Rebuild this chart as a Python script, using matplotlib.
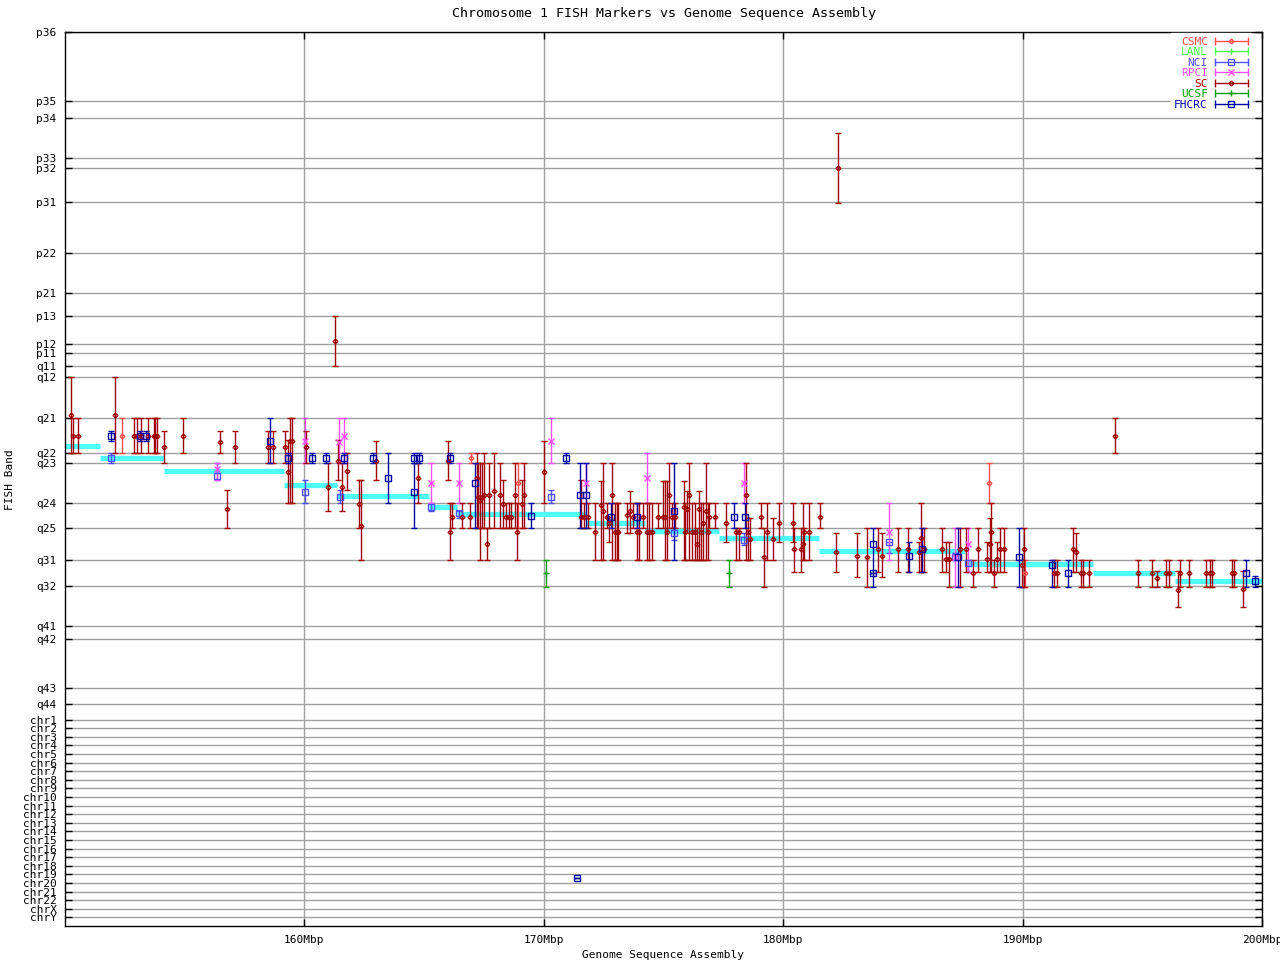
import matplotlib
matplotlib.use('Agg')
import numpy as np
import matplotlib.pyplot as plt
from matplotlib.lines import Line2D
from matplotlib.legend_handler import HandlerBase

plt.rcParams['font.family'] = 'DejaVu Sans Mono'
plt.rcParams['font.size'] = 8

# band coordinate scale (top of p arm = smallest value)
band_names = ['p36', 'p35', 'p34', 'p33', 'p32', 'p31', 'p22', 'p21', 'p13', 'p12', 'p11',
              'q11', 'q12', 'q21', 'q22', 'q23', 'q24', 'q25', 'q31', 'q32', 'q41', 'q42',
              'q43', 'q44'] + ['chr%d' % i for i in range(1, 23)] + ['chrX', 'chrY']
band_pos = [32.3, 101.3, 118.3, 158.3, 168.3, 202.3, 253.3, 293.3, 316, 344, 353.3,
            366.3, 377.3, 418.3, 453.3, 463.3, 503.3, 528.3, 560.3, 586.3, 626.3, 639,
            688.3, 704, 720.3, 728.3, 737.3, 745.3, 754.3, 763.3, 771.3, 780.3, 788.3,
            797.3, 806.3, 814.3, 823.3, 831.3, 840.3, 849.3, 857.3, 866.3, 874.3, 883.3,
            892.3, 900.3, 909.3, 917.3]
band_bottom = 926.3

# sequence assembly band segments (Mbp start, Mbp end, band coord)
seg_start = [150.0, 151.45, 154.13, 159.16, 161.38, 165.2, 166.37, 171.78, 174.21, 177.32,
             181.51, 187.59, 192.96, 196.35]
seg_end = [151.45, 154.13, 159.16, 161.38, 165.2, 166.37, 171.78, 174.21, 177.32, 181.51,
           187.59, 192.96, 196.35, 200.0]
seg_band = [446, 458, 471, 485, 496, 507, 514, 523, 531, 538, 551, 564, 573, 581]

# FISH markers: (Mbp, band, band low, band high)
sc = [
    (150.26, 415, 377, 453), (150.33, 436, 418, 453), (150.54, 436, 418, 453),
    (152.08, 415, 377, 453), (152.87, 436, 418, 453), (153.01, 436, 418, 453),
    (153.19, 436, 418, 453), (153.47, 436, 418, 453), (153.72, 436, 418, 453),
    (153.78, 436, 418, 453), (153.85, 436, 418, 453), (154.14, 447, 431, 463),
    (154.94, 436, 418, 453), (156.49, 442, 431, 453), (156.76, 509, 490, 528),
    (157.12, 447, 431, 463), (158.46, 447, 431, 463), (158.67, 447, 431, 463),
    (159.17, 447, 431, 463), (159.30, 472, 440, 503), (159.41, 441, 418, 503),
    (159.50, 441, 418, 503), (160.07, 447, 431, 463), (160.99, 487, 463, 511),
    (161.26, 341, 316, 366), (161.40, 461, 440, 480), (161.57, 487, 463, 511),
    (161.77, 471, 453, 490), (162.29, 504, 480, 528), (162.35, 526, 480, 560),
    (162.99, 461, 441, 480), (164.75, 478, 463, 503), (166.01, 461, 441, 480),
    (166.07, 532, 503, 560), (166.15, 517, 503, 528), (166.57, 517, 503, 528),
    (166.90, 517, 503, 528), (167.20, 478, 453, 528), (167.27, 497, 463, 528),
    (167.34, 500, 463, 560), (167.42, 497, 463, 528), (167.49, 495, 453, 528),
    (167.62, 544, 528, 560), (167.73, 495, 463, 528), (167.94, 491, 453, 528),
    (168.15, 495, 463, 528), (168.31, 504, 480, 528), (168.43, 517, 503, 528),
    (168.55, 517, 503, 528), (168.65, 517, 503, 528), (168.78, 495, 463, 528),
    (168.86, 532, 503, 560), (169.09, 504, 480, 528), (169.19, 495, 463, 528),
    (169.99, 472, 441, 503), (171.57, 517, 480, 528), (171.70, 517, 503, 528),
    (171.85, 517, 503, 528), (172.13, 532, 503, 560), (172.38, 505, 481, 560),
    (172.48, 511, 463, 560), (172.62, 517, 503, 528), (172.73, 523, 517, 542),
    (172.86, 495, 463, 560), (172.97, 532, 503, 560), (173.04, 532, 503, 560),
    (173.11, 532, 503, 560), (173.49, 515, 503, 533), (173.60, 511, 491, 533),
    (173.74, 517, 503, 528), (173.88, 532, 503, 560), (173.97, 532, 503, 560),
    (174.16, 517, 503, 528), (174.31, 532, 503, 560), (174.41, 532, 503, 560),
    (174.54, 532, 503, 560), (174.76, 517, 503, 528), (174.97, 517, 481, 528),
    (175.05, 517, 481, 560), (175.14, 532, 481, 560), (175.23, 495, 463, 528),
    (175.35, 517, 503, 528), (175.50, 517, 503, 528), (175.84, 507, 481, 560),
    (175.90, 532, 503, 560), (175.97, 509, 491, 533), (176.07, 495, 463, 560),
    (176.18, 532, 503, 560), (176.30, 532, 503, 560), (176.39, 544, 528, 560),
    (176.49, 509, 491, 560), (176.58, 532, 503, 560), (176.67, 523, 503, 560),
    (176.77, 511, 463, 560), (176.86, 532, 503, 560), (176.91, 517, 503, 528),
    (177.16, 517, 503, 528), (177.62, 523, 503, 542), (178.03, 532, 528, 560),
    (178.14, 532, 528, 560), (178.46, 495, 463, 560), (178.52, 532, 518, 560),
    (178.63, 539, 518, 560), (179.09, 517, 503, 528), (179.19, 557, 528, 587),
    (179.34, 532, 503, 560), (179.58, 539, 518, 560), (179.82, 523, 503, 542),
    (180.41, 523, 503, 542), (180.47, 549, 528, 572), (180.73, 549, 528, 572),
    (180.83, 544, 503, 560), (180.87, 532, 528, 560), (181.08, 532, 503, 560),
    (181.52, 517, 503, 528), (182.19, 552, 533, 572), (182.28, 168, 133, 203),
    (183.10, 556, 533, 577), (183.52, 557, 528, 587), (183.98, 549, 528, 572),
    (184.12, 556, 533, 577), (184.81, 549, 528, 572), (185.23, 549, 528, 572),
    (185.66, 552, 542, 572), (185.76, 538, 503, 572), (185.87, 549, 528, 572),
    (186.62, 549, 528, 572), (186.80, 559, 542, 572), (186.92, 559, 542, 587),
    (187.37, 549, 528, 587), (187.64, 549, 528, 572), (187.94, 573, 560, 587),
    (188.15, 549, 528, 572), (188.52, 559, 542, 572), (188.62, 544, 518, 572),
    (188.69, 532, 503, 572), (188.79, 573, 560, 587), (188.94, 559, 542, 572),
    (189.04, 549, 528, 572), (189.21, 549, 528, 572), (189.98, 565, 560, 587),
    (190.06, 549, 528, 587), (191.31, 573, 560, 587), (191.42, 573, 560, 587),
    (192.09, 549, 528, 572), (192.21, 552, 533, 572), (192.44, 573, 560, 587),
    (192.54, 573, 560, 587), (192.79, 573, 560, 587), (193.84, 436, 418, 453),
    (194.81, 573, 560, 587), (195.40, 573, 560, 587), (195.61, 578, 571, 587),
    (196.00, 573, 560, 587), (196.10, 573, 560, 587), (196.49, 590, 571, 607),
    (196.57, 573, 560, 587), (196.97, 573, 560, 587), (197.64, 573, 560, 587),
    (197.81, 573, 560, 587), (197.92, 573, 560, 587), (198.73, 573, 560, 587),
    (198.83, 573, 560, 587), (199.22, 589, 571, 607),
]
fhcrc = [
    (151.94, 436, 431, 441), (153.12, 436, 431, 441), (153.38, 436, 431, 441),
    (158.55, 441, 418, 463), (159.32, 458, 453, 463), (160.31, 458, 453, 463),
    (160.91, 458, 453, 463), (161.65, 458, 453, 463), (162.88, 458, 453, 463),
    (163.49, 478, 453, 503), (164.56, 492, 463, 528), (164.56, 458, 453, 463),
    (164.79, 458, 453, 463), (166.07, 458, 453, 463), (167.13, 483, 463, 528),
    (169.48, 516, 503, 528), (170.91, 458, 453, 463), (171.50, 495, 463, 528),
    (171.78, 495, 463, 528), (172.80, 517, 503, 528), (173.91, 517, 503, 528),
    (175.42, 511, 463, 560), (177.93, 517, 503, 528), (178.42, 517, 503, 528),
    (183.77, 544, 528, 587), (183.77, 573, 573, 573), (185.25, 556, 542, 572),
    (185.80, 549, 528, 572), (187.30, 557, 528, 587), (189.87, 557, 528, 587),
    (191.21, 565, 560, 587), (191.90, 573, 560, 587), (199.34, 573, 560, 587),
    (199.69, 581, 576, 587), (171.40, 878, 878, 878),
]
nci = [
    (151.94, 458, 453, 463), (156.34, 476, 463, 480), (160.01, 492, 480, 503),
    (161.48, 497, 490, 503), (165.28, 507, 503, 511), (166.47, 513, 511, 518),
    (170.31, 497, 490, 503), (175.42, 533, 528, 540), (178.38, 540, 533, 545),
    (184.43, 542, 542, 553), (187.16, 557, 553, 560), (187.74, 563, 560, 572),
]
rpci = [
    (156.34, 469, 463, 480), (160.01, 441, 418, 463), (161.45, 442, 418, 463),
    (161.65, 436, 418, 463), (165.28, 483, 463, 503), (166.47, 483, 463, 503),
    (170.31, 441, 418, 463), (171.78, 483, 463, 503), (174.31, 478, 453, 503),
    (178.38, 483, 463, 503), (184.43, 532, 503, 560), (187.16, 557, 528, 587),
    (187.74, 544, 528, 572),
]
csmc = [
    (152.38, 436, 418, 453), (166.97, 458, 453, 463), (168.92, 483, 463, 528),
    (188.60, 483, 463, 503), (190.09, 573, 560, 587),
]
ucsf = [(170.08, 573, 560, 587), (177.75, 573, 560, 587)]
lanl = []

labs = ['CSMC', 'LANL', 'NCI', 'RPCI', 'SC', 'UCSF', 'FHCRC']
lab_data = [csmc, lanl, nci, rpci, sc, ucsf, fhcrc]
lab_colors = ['#ff5050', '#50ff50', '#5050ff', '#ff50ff', '#a00000', '#00a000', '#0000a0']
lab_markers = ['D', '+', 's', 'x', 'D', '+', 's']
lab_ms = [2.4, 4, 4.2, 3.8, 2.4, 4, 4.2]


class KeyHandler(HandlerBase):
    def create_artists(self, legend, orig, xdescent, ydescent, width, height, fontsize, trans):
        c = orig.get_color()
        y = (height - ydescent) / 2
        x0, x1 = -xdescent, width - xdescent
        line = Line2D([x0, x1], [y, y], color=c, lw=1, transform=trans)
        caps = Line2D([x0, x1], [y, y], ls='none', marker='|', ms=6, mew=1, mec=c, transform=trans)
        mk = Line2D([(x0 + x1) / 2], [y], ls='none', marker=orig.get_marker(),
                    ms=orig.get_markersize(), mew=1, mec=c, mfc='none', transform=trans)
        return [line, caps, mk]


fig = plt.figure(figsize=(12.8, 9.6), dpi=100)
ax = fig.add_axes([65 / 1280, 1 - 926.3 / 960, 1197 / 1280, (926.3 - 32.3) / 960])

ax.hlines(seg_band, seg_start, seg_end, color='#50ffff', lw=3.8, zorder=2)

handles = []
for name, data, c, m, ms in zip(labs, lab_data, lab_colors, lab_markers, lab_ms):
    if data:
        d = np.array(data, dtype=float)
        x, y, lo, hi = d[:, 0], d[:, 1], d[:, 2], d[:, 3]
        ax.errorbar(x, y, yerr=[y - lo, hi - y], fmt='none', ecolor=c, elinewidth=1,
                    capsize=2.5, capthick=1, zorder=3)
        ax.plot(x, y, ls='none', marker=m, ms=ms, mew=1, mec=c, mfc='none', zorder=4)
    handles.append(Line2D([], [], color=c, marker=m, ms=ms, label=name))

ax.set_xlim(150, 200)
ax.set_ylim(band_bottom, band_pos[0])
ax.set_xticks([160, 170, 180, 190, 200])
ax.set_xticklabels(['160Mbp', '170Mbp', '180Mbp', '190Mbp', '200Mbp'])
ax.set_yticks(band_pos)
ax.set_yticklabels(band_names)
ax.tick_params(direction='in', length=5, width=1, top=True, right=True, pad=6)
ax.grid(True, color='#a0a0a0', lw=1, zorder=0)
ax.set_axisbelow(True)
for s in ax.spines.values():
    s.set_linewidth(1)

ax.set_title('Chromosome 1 FISH Markers vs Genome Sequence Assembly', pad=11)
ax.set_xlabel('Genome Sequence Assembly', labelpad=4)
ax.set_ylabel('FISH Band', labelpad=6)

leg = ax.legend(handles=handles, handler_map={Line2D: KeyHandler()}, loc='upper right',
                bbox_to_anchor=(0.991, 0.999), markerfirst=False, frameon=True,
                fancybox=False, framealpha=1, edgecolor='white', handlelength=3.0,
                labelspacing=0.05, borderpad=0.3, borderaxespad=0, handletextpad=0.6)
for t, c in zip(leg.get_texts(), lab_colors):
    t.set_color(c)

fig.savefig('out.png', dpi=100)
